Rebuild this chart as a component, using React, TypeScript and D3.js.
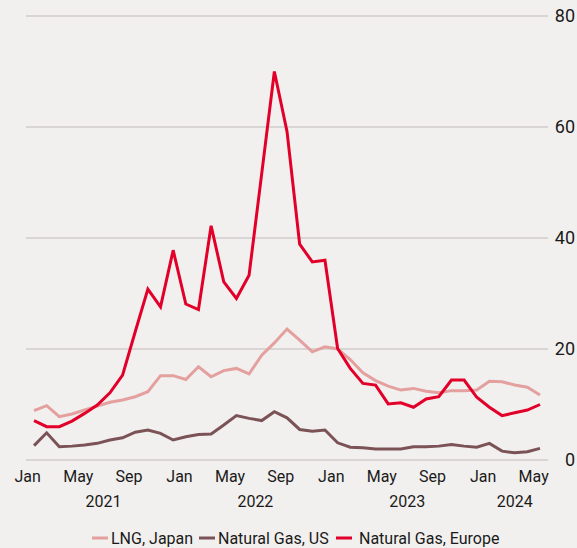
import React from "react";
import * as d3 from "d3";

const months = [
  "2021-01","2021-02","2021-03","2021-04","2021-05","2021-06","2021-07","2021-08","2021-09","2021-10","2021-11","2021-12",
  "2022-01","2022-02","2022-03","2022-04","2022-05","2022-06","2022-07","2022-08","2022-09","2022-10","2022-11","2022-12",
  "2023-01","2023-02","2023-03","2023-04","2023-05","2023-06","2023-07","2023-08","2023-09","2023-10","2023-11","2023-12",
  "2024-01","2024-02","2024-03","2024-04","2024-05",
];

const lngJapan = [
  8.9, 9.8, 7.8, 8.3, 9.0, 9.7, 10.4, 10.8, 11.4, 12.3, 15.2, 15.2,
  14.5, 16.8, 15.0, 16.1, 16.5, 15.5, 18.9, 21.1, 23.6, 21.6, 19.5, 20.4,
  20.0, 18.1, 15.7, 14.3, 13.3, 12.6, 12.9, 12.4, 12.1, 12.5, 12.5, 12.6,
  14.2, 14.1, 13.5, 13.1, 11.7,
];

const gasUS = [
  2.6, 4.9, 2.4, 2.5, 2.7, 3.0, 3.6, 4.0, 5.0, 5.4, 4.8, 3.6,
  4.2, 4.6, 4.7, 6.3, 8.0, 7.5, 7.1, 8.7, 7.6, 5.5, 5.2, 5.4,
  3.1, 2.3, 2.2, 2.0, 2.0, 2.0, 2.4, 2.4, 2.5, 2.8, 2.5, 2.3,
  3.0, 1.6, 1.3, 1.5, 2.1,
];

const gasEurope = [
  7.1, 6.0, 6.0, 7.0, 8.4, 9.9, 12.1, 15.3, 23.1, 30.8, 27.6, 37.8,
  28.1, 27.1, 42.2, 32.1, 29.1, 33.3, 51.6, 70.0, 59.2, 38.9, 35.7, 36.0,
  20.1, 16.5, 13.8, 13.5, 10.1, 10.3, 9.5, 11.0, 11.4, 14.4, 14.4, 11.3,
  9.5, 8.0, 8.5, 9.0, 10.0,
];

const yTicks = [0, 20, 40, 60, 80];
const monthTickIdx = [0, 4, 8, 12, 16, 20, 24, 28, 32, 36, 40];
const monthNames = ["Jan", "Feb", "Mar", "Apr", "May", "Jun", "Jul", "Aug", "Sep", "Oct", "Nov", "Dec"];
const yearLabels = [
  { year: "2021", start: 0, end: 12 },
  { year: "2022", start: 12, end: 24 },
  { year: "2023", start: 24, end: 36 },
  { year: "2024", start: 36, end: 41 },
];

const seriesNames = ["LNG, Japan", "Natural Gas, US", "Natural Gas, Europe"];
const seriesColors = ["#e3a09e", "#7b5357", "#e2002a"];

const W = 577;
const H = 548;
const FONT = "Roboto, 'Noto Sans', sans-serif";

export default function App() {
  const x = d3.scaleLinear().domain([0, 40.5]).range([27.7, 540]);
  const y = d3.scaleLinear().domain([0, 80]).range([460, 16]);
  const line = d3
    .line<number>()
    .x((_, i) => x(i + 0.5))
    .y((d) => y(d));

  const series = [lngJapan, gasUS, gasEurope];

  const legendItems = [
    { x: 92, textX: 111 },
    { x: 199, textX: 218 },
    { x: 336, textX: 359 },
  ];

  return (
    <svg
      width={W}
      height={H}
      style={{ position: "absolute", left: 0, top: 0, background: "#f2f0ee", fontFamily: FONT }}
    >
      <rect x={0} y={0} width={W} height={H} fill="#f2f0ee" />
      {yTicks.map((t) => (
        <g key={t}>
          <line x1={26} x2={548} y1={y(t)} y2={y(t)} stroke="#cfcdcb" strokeWidth={1.3} />
          <text x={575} y={y(t)} dy="0.36em" textAnchor="end" fontSize={18} fill="#1a1a1a">
            {t}
          </text>
        </g>
      ))}
      {series.map((s, k) => (
        <path key={k} d={line(s) || ""} fill="none" stroke={seriesColors[k]} strokeWidth={3} strokeLinejoin="miter" />
      ))}
      {monthTickIdx.map((i) => (
        <text key={i} x={x(i)} y={482} textAnchor="middle" fontSize={16} fill="#1a1a1a">
          {monthNames[+months[i].slice(5) - 1]}
        </text>
      ))}
      {yearLabels.map((yl) => (
        <text key={yl.year} x={x((yl.start + yl.end) / 2)} y={507} textAnchor="middle" fontSize={16} fill="#1a1a1a">
          {yl.year}
        </text>
      ))}
      {seriesNames.map((n, k) => (
        <g key={n}>
          <line
            x1={legendItems[k].x}
            x2={legendItems[k].x + 16}
            y1={538}
            y2={538}
            stroke={seriesColors[k]}
            strokeWidth={3}
          />
          <text x={legendItems[k].textX} y={544} fontSize={16} fill="#1a1a1a">
            {n}
          </text>
        </g>
      ))}
    </svg>
  );
}
